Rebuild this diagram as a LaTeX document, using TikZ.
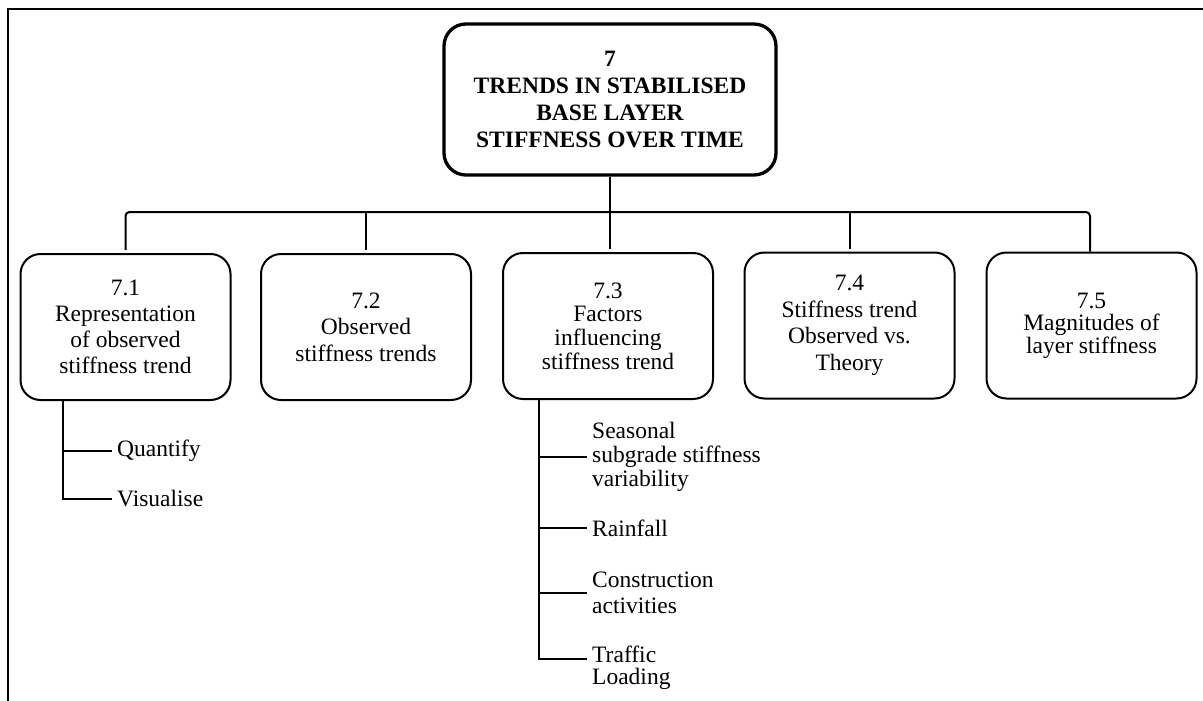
\documentclass[tikz,border=0pt]{standalone}
\usepackage{fontspec}
\setmainfont{Liberation Serif}
\begin{document}
\begin{tikzpicture}[x=1pt,y=-1pt,
  conn/.style={line width=2pt},
  box/.style={draw, line width=2pt, rounded corners=20pt, minimum width=210pt,
    minimum height=146pt, align=center, inner sep=2pt},
  topbox/.style={draw, line width=3.3pt, rounded corners=22pt, minimum width=332pt,
    minimum height=151pt, align=center, inner sep=2pt,
    font={\fontsize{23.5}{27.3}\selectfont\bfseries}},
  leaf/.style={anchor=west, align=left, inner xsep=5pt, inner ysep=0pt}]
\useasboundingbox (0,0) rectangle (1203,701);
\draw[line width=2pt] (1203,9) -- (8,9) -- (8,701);

\node[topbox] (top) at (610,99.5) {7\\TRENDS IN STABILISED\\BASE LAYER\\STIFFNESS OVER TIME};

\node[box, font={\fontsize{23.5}{25.8}\selectfont}] (b1) at (125.5,327) {7.1\\Representation\\of observed\\stiffness trend};
\node[box, font={\fontsize{23.5}{26.5}\selectfont}] (b2) at (366,327) {7.2\\Observed\\stiffness trends};
\node[box, font={\fontsize{23.5}{23.7}\selectfont}] (b3) at (608,326) {7.3\\Factors\\influencing\\stiffness trend};
\node[box, font={\fontsize{23.5}{26.5}\selectfont}] (b4) at (849.5,325.5) {7.4\\Stiffness trend\\Observed vs.\\Theory};
\node[box, font={\fontsize{23.5}{22.5}\selectfont}] (b5) at (1091.5,325.5) {7.5\\Magnitudes of\\layer stiffness};

\coordinate (bus) at (610,212);
\draw[conn, rounded corners=4pt, shorten <=3pt] (b1.north) |- (bus) -| ([xshift=-1.5pt]b5.north);
\draw[conn, shorten <=3pt] (b2.north) -- (b2.north |- bus);
\draw[conn, shorten <=3pt] (b4.north) -- (b4.north |- bus);
\draw[conn, shorten >=3pt] (top.south) -- (top.south |- b3.north);

% 7.1 sub items
\node[leaf, font={\fontsize{23.5}{25}\selectfont}] (quant) at (112,451) {Quantify};
\node[leaf, font={\fontsize{23.5}{25}\selectfont}] (vis) at (112,499) {Visualise};
\coordinate (a1) at ([xshift=-62.5pt]b1.south);
\draw[conn] (a1) |- (vis.west);
\draw[conn] (a1 |- quant.west) -- (quant.west);

% 7.3 sub items
\node[leaf, font={\fontsize{23.5}{24}\selectfont}] (seas) at (587,457) {Seasonal\\subgrade stiffness\\variability};
\node[leaf, font={\fontsize{23.5}{24}\selectfont}] (rain) at (587,528) {Rainfall};
\node[leaf, font={\fontsize{23.5}{26}\selectfont}] (cons) at (587,593) {Construction\\activities};
\node[leaf, font={\fontsize{23.5}{21.5}\selectfont}] (traf) at (587,668) {Traffic\\Loading};
\coordinate (a3) at ([xshift=-69pt]b3.south);
\draw[conn] (a3) |- ([yshift=9pt]traf.west);
\draw[conn] (a3 |- seas.west) -- (seas.west);
\draw[conn] (a3 |- rain.west) -- (rain.west);
\draw[conn] (a3 |- cons.west) -- (cons.west);
\end{tikzpicture}
\end{document}
